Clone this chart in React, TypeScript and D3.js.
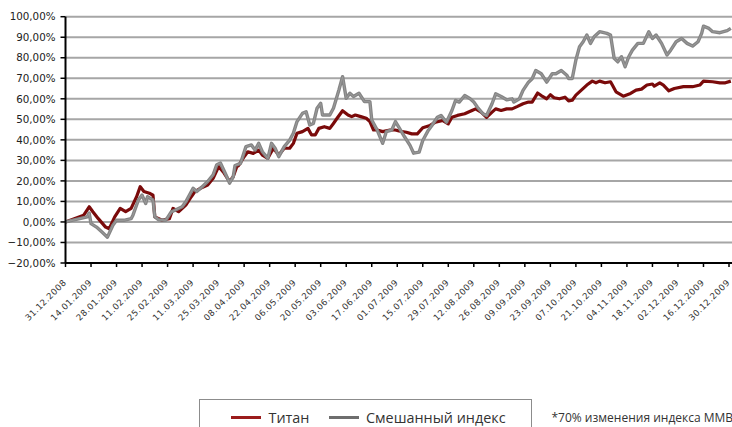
import React from "react";
import * as d3 from "d3";

// ---- data ----
const titanDates = [
  "31.12.2008","10.01.2009","13.01.2009","15.01.2009","18.01.2009","22.01.2009","24.01.2009","27.01.2009","30.01.2009",
  "02.02.2009","05.02.2009","08.02.2009","10.02.2009","12.02.2009","15.02.2009","17.02.2009","18.02.2009","22.02.2009","26.02.2009","28.02.2009",
  "03.03.2009","07.03.2009","10.03.2009","12.03.2009","15.03.2009","19.03.2009","22.03.2009","25.03.2009","28.03.2009","31.03.2009",
  "02.04.2009","04.04.2009","05.04.2009","08.04.2009","10.04.2009","13.04.2009","16.04.2009","18.04.2009","21.04.2009","24.04.2009","27.04.2009","30.04.2009",
  "03.05.2009","05.05.2009","07.05.2009","10.05.2009","13.05.2009","15.05.2009","17.05.2009","19.05.2009","22.05.2009","25.05.2009","27.05.2009","29.05.2009",
  "01.06.2009","04.06.2009","06.06.2009","08.06.2009","11.06.2009","14.06.2009","16.06.2009","18.06.2009","20.06.2009","23.06.2009","27.06.2009","30.06.2009",
  "02.07.2009","06.07.2009","09.07.2009","12.07.2009","15.07.2009","19.07.2009","22.07.2009","26.07.2009","29.07.2009","31.07.2009",
  "03.08.2009","07.08.2009","11.08.2009","13.08.2009","16.08.2009","19.08.2009","22.08.2009","24.08.2009","27.08.2009","30.08.2009",
  "02.09.2009","05.09.2009","08.09.2009","11.09.2009","13.09.2009","16.09.2009","18.09.2009","21.09.2009","23.09.2009","25.09.2009","28.09.2009",
  "01.10.2009","03.10.2009","05.10.2009","07.10.2009","10.10.2009","13.10.2009","16.10.2009","18.10.2009","20.10.2009","23.10.2009","26.10.2009","27.10.2009","29.10.2009",
  "02.11.2009","06.11.2009","09.11.2009","12.11.2009","15.11.2009","18.11.2009","19.11.2009","22.11.2009","24.11.2009","27.11.2009","30.11.2009",
  "05.12.2009","10.12.2009","14.12.2009","16.12.2009","21.12.2009","25.12.2009","28.12.2009","31.12.2009",
];
const titanValues = [
  0, 3.3, 7.4, 5.0, 1.6, -2.5, -3.3, 2.5, 6.6,
  5.0, 6.6, 12.3, 17.2, 14.8, 14.0, 13.0, 2.5, 0.8, 1.6, 6.6,
  5.0, 8.2, 12.3, 14.8, 16.4, 18.0, 21.3, 27.0, 23.8, 19.7,
  22.0, 27.0, 27.5, 31.8, 34.2, 33.4, 35.0, 32.6, 31.0, 35.9, 32.6, 35.9,
  35.9, 38.3, 43.2, 44.0, 45.6, 42.4, 42.4, 45.6, 46.4, 45.6, 48.0, 50.5,
  54.2, 52.1, 51.3, 52.1, 51.3, 50.5, 48.9, 44.8, 44.8, 44.0, 44.8, 44.8,
  44.3, 43.7, 42.9, 42.9, 45.9, 47.0, 48.6, 49.4, 47.8, 51.0,
  51.9, 52.7, 54.3, 55.1, 53.5, 51.0, 53.5, 55.1, 54.3, 55.1,
  55.1, 56.3, 57.6, 58.4, 58.4, 62.8, 61.6, 60.0, 62.0, 60.5, 60.0,
  60.8, 59.0, 59.3, 61.8, 64.2, 66.7, 68.6, 67.8, 68.6, 67.8, 68.3, 66.7, 63.4,
  61.3, 62.6, 64.2, 64.7, 66.7, 67.2, 66.2, 67.8, 66.7, 63.9, 65.0,
  65.9, 65.9, 66.7, 68.6, 68.3, 67.8, 67.8, 68.6,
];

const mixDates = [
  "31.12.2008","12.01.2009","13.01.2009","14.01.2009","17.01.2009","20.01.2009","23.01.2009","26.01.2009","28.01.2009",
  "01.02.2009","05.02.2009","06.02.2009","09.02.2009","11.02.2009","13.02.2009","14.02.2009","17.02.2009","18.02.2009","20.02.2009","24.02.2009","27.02.2009",
  "01.03.2009","05.03.2009","07.03.2009","11.03.2009","13.03.2009","16.03.2009","19.03.2009","22.03.2009","24.03.2009","26.03.2009","29.03.2009","31.03.2009",
  "02.04.2009","03.04.2009","06.04.2009","09.04.2009","12.04.2009","14.04.2009","16.04.2009","18.04.2009","21.04.2009","23.04.2009","25.04.2009","27.04.2009","30.04.2009",
  "03.05.2009","05.05.2009","07.05.2009","10.05.2009","12.05.2009","14.05.2009","16.05.2009","18.05.2009","20.05.2009","21.05.2009","25.05.2009","27.05.2009","30.05.2009",
  "01.06.2009","03.06.2009","05.06.2009","07.06.2009","10.06.2009","13.06.2009","16.06.2009","17.06.2009","20.06.2009","23.06.2009","25.06.2009","28.06.2009","30.06.2009",
  "02.07.2009","05.07.2009","08.07.2009","10.07.2009","13.07.2009","15.07.2009","18.07.2009","20.07.2009","23.07.2009","25.07.2009","28.07.2009","31.07.2009",
  "02.08.2009","04.08.2009","07.08.2009","10.08.2009","12.08.2009","14.08.2009","17.08.2009","19.08.2009","22.08.2009","24.08.2009","27.08.2009","30.08.2009",
  "02.09.2009","03.09.2009","06.09.2009","08.09.2009","11.09.2009","13.09.2009","15.09.2009","18.09.2009","21.09.2009","24.09.2009","26.09.2009","29.09.2009",
  "02.10.2009","03.10.2009","05.10.2009","07.10.2009","09.10.2009","11.10.2009","13.10.2009","15.10.2009","17.10.2009","20.10.2009","24.10.2009","26.10.2009","28.10.2009","30.10.2009",
  "01.11.2009","03.11.2009","05.11.2009","07.11.2009","10.11.2009","13.11.2009","16.11.2009","18.11.2009","20.11.2009","23.11.2009","26.11.2009","28.11.2009",
  "01.12.2009","04.12.2009","07.12.2009","10.12.2009","13.12.2009","15.12.2009","16.12.2009","19.12.2009","21.12.2009","25.12.2009","29.12.2009","31.12.2009",
];
const mixValues = [
  0, 2.5, 4.4, -0.8, -2.5, -4.9, -7.4, -1.6, 0.8,
  0.8, 1.6, 3.3, 10.7, 13.1, 9.0, 12.3, 10.7, 2.5, 1.1, 0.8, 4.9,
  5.7, 7.4, 9.8, 16.4, 14.8, 17.2, 19.7, 23.0, 27.9, 28.7, 23.0, 18.9,
  22.0, 27.5, 28.5, 36.7, 37.5, 35.0, 38.3, 34.2, 31.0, 38.3, 35.9, 31.8, 36.7,
  39.9, 43.2, 48.9, 52.9, 53.7, 47.2, 48.0, 55.4, 57.8, 52.1, 52.1, 55.4, 64.3,
  70.8, 60.2, 62.7, 61.1, 62.7, 58.6, 58.6, 49.7, 44.8, 38.3, 44.0, 44.8, 48.9,
  46.0, 41.5, 37.3, 33.5, 34.0, 39.7, 44.6, 47.0, 51.0, 51.9, 48.6, 54.3,
  59.2, 58.4, 61.6, 60.0, 58.4, 55.9, 52.7, 51.9, 57.6, 62.4, 61.1, 59.5,
  60.0, 58.4, 60.0, 64.1, 68.1, 69.8, 73.8, 72.2, 68.1, 72.2, 72.2, 73.8,
  71.5, 69.9, 69.9, 78.9, 85.4, 87.8, 91.1, 87.0, 90.2, 92.7, 91.9, 91.1, 79.7, 78.0,
  80.5, 75.6, 80.5, 83.7, 87.0, 87.0, 92.7, 89.4, 91.1, 87.0, 81.3, 83.7,
  87.8, 89.4, 87.0, 85.7, 87.8, 91.9, 95.4, 94.3, 92.7, 92.2, 93.2, 94.3,
];

const xTickLabels = [
  "31.12.2008","14.01.2009","28.01.2009","11.02.2009","25.02.2009","11.03.2009","25.03.2009",
  "08.04.2009","22.04.2009","06.05.2009","20.05.2009","03.06.2009","17.06.2009","01.07.2009",
  "15.07.2009","29.07.2009","12.08.2009","26.08.2009","09.09.2009","23.09.2009","07.10.2009",
  "21.10.2009","04.11.2009","18.11.2009","02.12.2009","16.12.2009","30.12.2009",
];
const yTicks = [-20, -10, 0, 10, 20, 30, 40, 50, 60, 70, 80, 90, 100];

const seriesNames = ["Титан", "Смешанный индекс"];
const footnote = "*70% изменения индекса ММВБ";

// ---- chart ----
const W = 732;
const H = 427;
const plotLeft = 65.5;
const plotRight = 729;
const plotTop = 16.7;
const plotBottom = 263;

const parse = d3.timeParse("%d.%m.%Y");
const fmtY = (v: number) => d3.format(".2f")(v).replace(".", ",") + "%";

export default function App() {
  const tickDates = xTickLabels.map((s) => parse(s) as Date);
  const x = d3
    .scaleTime()
    .domain([tickDates[0], tickDates[tickDates.length - 1]])
    .range([plotLeft, plotRight]);
  const y = d3.scaleLinear().domain([-20, 100]).range([plotBottom, plotTop]);

  const line = d3
    .line<[Date, number]>()
    .x((d) => x(d[0]))
    .y((d) => y(d[1]));

  const titan: [Date, number][] = titanDates.map((s, i) => [parse(s) as Date, titanValues[i]]);
  const mix: [Date, number][] = mixDates.map((s, i) => [parse(s) as Date, mixValues[i]]);

  const labelFont = "'DejaVu Sans', Verdana, sans-serif";
  const legendFont = "'Open Sans', 'Noto Sans', sans-serif";
  const red = "#7a0a0a";
  const gray = "#858585";

  return (
    <svg
      width={W}
      height={H}
      style={{ position: "absolute", left: 0, top: 0, background: "#fff" }}
    >
      <rect x={0} y={0} width={W} height={H} fill="#fff" />
      {/* gridlines */}
      {yTicks.map((t) =>
        t === -20 ? null : (
          <line
            key={"g" + t}
            x1={plotLeft}
            x2={W}
            y1={y(t)}
            y2={y(t)}
            stroke="#a6a6a6"
            strokeWidth={2}
          />
        )
      )}
      {/* y labels and ticks */}
      {yTicks.map((t) => (
        <g key={"y" + t}>
          <line x1={plotLeft - 5} x2={plotLeft} y1={y(t)} y2={y(t)} stroke="#000" strokeWidth={1.5} />
          <text
            x={55.5}
            y={y(t)}
            dy="0.36em"
            textAnchor="end"
            fontFamily={labelFont}
            fontSize={10.3}
            fill="#222"
          >
            {fmtY(t)}
          </text>
        </g>
      ))}
      {/* series */}
      <path d={line(titan) || ""} fill="none" stroke={red} strokeWidth={3.2} strokeLinejoin="round" />
      <path d={line(mix) || ""} fill="none" stroke={gray} strokeWidth={3.4} strokeLinejoin="round" />
      <path d={line(mix) || ""} fill="none" stroke="#a0a0a0" strokeWidth={0.8} strokeLinejoin="round" />
      {/* axes */}
      <line x1={plotLeft} x2={plotLeft} y1={plotTop} y2={plotBottom} stroke="#000" strokeWidth={2} />
      <line x1={plotLeft} x2={W} y1={plotBottom} y2={plotBottom} stroke="#000" strokeWidth={2} />
      {tickDates.map((d, i) => (
        <g key={"x" + i}>
          <line x1={x(d)} x2={x(d)} y1={plotBottom} y2={plotBottom + 4} stroke="#000" strokeWidth={1.5} />
          <text
            transform={`translate(${x(d) + 1.5},${plotBottom + 20}) rotate(-45)`}
            textAnchor="end"
            fontFamily={labelFont}
            fontSize={8.6}
            letterSpacing={0.5}
            fill="#333"
          >
            {xTickLabels[i]}
          </text>
        </g>
      ))}
      {/* legend */}
      <rect x={199.5} y={399.5} width={332} height={40} fill="#fff" stroke="#8c8c8c" strokeWidth={1} />
      <line x1={231} x2={261} y1={417.5} y2={417.5} stroke="#9b1c1c" strokeWidth={3} />
      <text x={268.5} y={417.5} dy="0.36em" fontFamily={legendFont} fontSize={14.4} fill="#333">
        {seriesNames[0]}
      </text>
      <line x1={329} x2={359} y1={417.5} y2={417.5} stroke="#6e6e6e" strokeWidth={3} />
      <text x={366} y={417.5} dy="0.36em" fontFamily={legendFont} fontSize={14.4} fill="#333">
        {seriesNames[1]}
      </text>
      <text x={551.5} y={418} dy="0.36em" fontFamily={legendFont} fontSize={12} fill="#333">
        {footnote}
      </text>
    </svg>
  );
}
